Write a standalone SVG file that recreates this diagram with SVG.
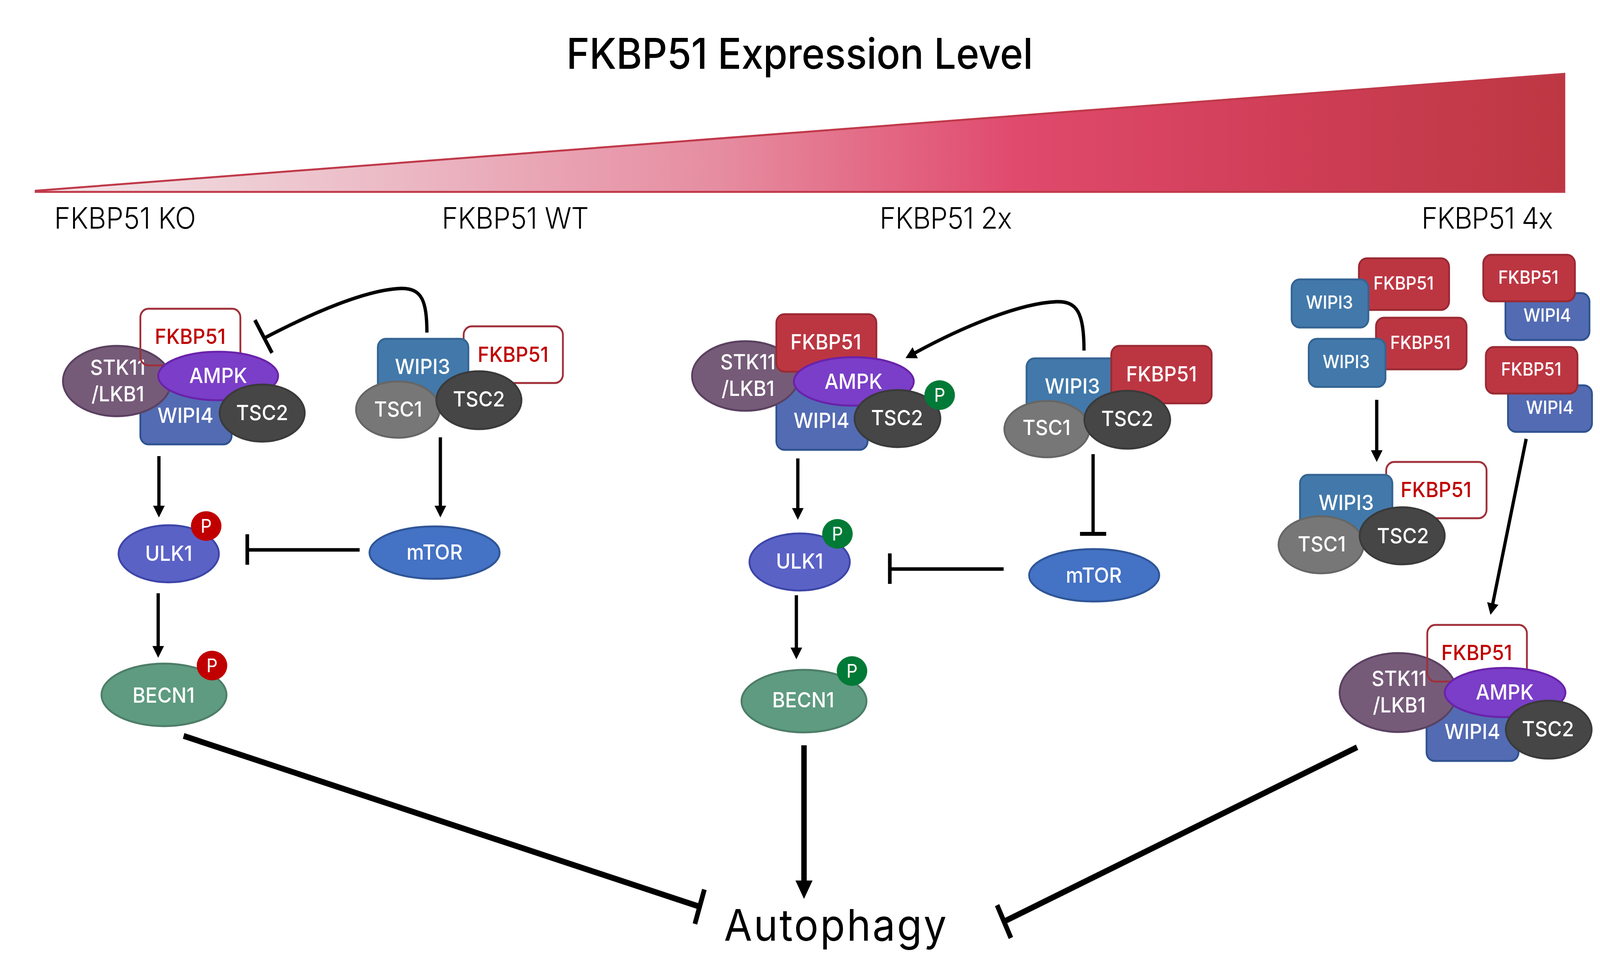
<svg xmlns="http://www.w3.org/2000/svg" width="4400" height="2505" viewBox="0 0 4400 2505" preserveAspectRatio="none" style="max-width:100vw;max-height:100vh">
<defs>
<linearGradient id="grad" gradientUnits="userSpaceOnUse" x1="98" y1="0" x2="4302" y2="0">
<stop offset="0" stop-color="#f2e8ea"/>
<stop offset="0.25" stop-color="#ebb6c2"/>
<stop offset="0.45" stop-color="#e68ca0"/>
<stop offset="0.64" stop-color="#e04a6d"/>
<stop offset="0.8" stop-color="#d13f59"/>
<stop offset="1" stop-color="#bd3742"/>
</linearGradient>
<marker id="arr" markerUnits="userSpaceOnUse" viewBox="0 0 30 32" refX="1" refY="16" markerWidth="30" markerHeight="32" orient="auto"><path d="M0,0 L30,16 L0,32 z" fill="#000"/></marker>
<marker id="arrBig" markerUnits="userSpaceOnUse" viewBox="0 0 47 47" refX="1" refY="23.5" markerWidth="47" markerHeight="47" orient="auto"><path d="M0,0 L47,23.5 L0,47 z" fill="#000"/></marker>
</defs>
<style>
.t{font-family:Inter,"Open Sans","Liberation Sans",sans-serif;fill:#000}
.lbl{font-family:Inter,"Open Sans","Liberation Sans",sans-serif;font-weight:500;fill:#fff;text-anchor:middle;font-size:54px}
.sm{font-size:46px}
.rt{fill:#c00000}
.pt{font-size:48px;font-weight:400}
.stk{fill:#765b79;stroke:#5a4160;stroke-width:5}
.ampk{fill:#7a3ec8;stroke:#6a22aa;stroke-width:5}
.wipi4{fill:#536bb3;stroke:#2f5390;stroke-width:5}
.wipi3{fill:#4279aa;stroke:#346493;stroke-width:5}
.tsc2{fill:#464646;stroke:#3a3a3a;stroke-width:5}
.tsc1{fill:#777;stroke:#666;stroke-width:5}
.fkr{fill:#bc3642;stroke:#9a2a33;stroke-width:5}
.fkw{fill:#fff;stroke:#a0303a;stroke-width:5}
.fko{fill:none;stroke:#a0303a;stroke-width:5}
.ulk{fill:#5a62c6;stroke:#3d45a8;stroke-width:5}
.mtor{fill:#4472c4;stroke:#2f5597;stroke-width:5}
.becn{fill:#5e9b80;stroke:#4d7d68;stroke-width:5}
.pr{fill:#c00000}
.pg{fill:#007a36}
.ln{stroke:#000;stroke-width:9;fill:none;stroke-linecap:butt}
.big{stroke-width:15}
.bar{stroke:#000;stroke-width:10;fill:none}
.bbar{stroke-width:13}
</style>
<rect width="4400" height="2505" fill="#fff"/>

<g id="header">
<text class="t" x="2199" y="176" font-size="108" font-weight="500" text-anchor="middle" textLength="1283" lengthAdjust="spacing">FKBP51 Expression Level</text>
<polygon points="98,488 4302,189 4302,491 98,491" fill="url(#grad)" stroke="#c0394a" stroke-width="5" stroke-linejoin="miter"/>
<text class="t" x="149" y="585" font-size="76" font-weight="300" textLength="390" lengthAdjust="spacing">FKBP51 KO</text>
<text class="t" x="1215" y="585" font-size="76" font-weight="300" textLength="404" lengthAdjust="spacing">FKBP51 WT</text>
<text class="t" x="2419" y="585" font-size="76" font-weight="300" textLength="364" lengthAdjust="spacing">FKBP51 2x</text>
<text class="t" x="3909" y="585" font-size="76" font-weight="300" textLength="362" lengthAdjust="spacing">FKBP51 4x</text>
</g>

<!-- Panel KO / WT -->
<g id="ko-wipi4"><rect class="wipi4" x="386" y="950" width="251" height="187" rx="22"/><text class="lbl" x="510" y="1082">WIPI4</text></g>
<g id="ko-stk11"><ellipse class="stk" cx="322" cy="975" rx="149" ry="90"/><text class="lbl" x="324" y="959">STK11</text><text class="lbl" x="324" y="1027">/LKB1</text></g>
<g id="ko-fkbp51-a"><rect class="fko" x="386" y="790" width="275" height="145" rx="22"/><text class="lbl rt" x="523" y="880">FKBP51</text></g>
<g id="ko-ampk"><ellipse class="ampk" cx="600" cy="962" rx="165" ry="62"/><text class="lbl" x="600" y="980">AMPK</text></g>
<g id="ko-tsc2-a"><ellipse class="tsc2" cx="721" cy="1057" rx="117" ry="73"/><text class="lbl" x="721" y="1075">TSC2</text></g>

<g id="ko-fkbp51-b"><rect class="fkw" x="1275" y="835" width="273" height="145" rx="22"/><text class="lbl rt" x="1411" y="926">FKBP51</text></g>
<g id="ko-wipi3"><rect class="wipi3" x="1039" y="867" width="249" height="190" rx="22"/><text class="lbl" x="1162" y="957">WIPI3</text></g>
<g id="ko-tsc1"><ellipse class="tsc1" cx="1094" cy="1048" rx="115" ry="72"/><text class="lbl" x="1095" y="1066">TSC1</text></g>
<g id="ko-tsc2-b"><ellipse class="tsc2" cx="1317" cy="1024" rx="117" ry="74"/><text class="lbl" x="1317" y="1040">TSC2</text></g>

<g id="ko-ulk1"><ellipse class="ulk" cx="464" cy="1417" rx="138" ry="73"/><text class="lbl" x="464" y="1435">ULK1</text></g>
<g id="ko-ulk1-p"><ellipse class="pr" cx="567" cy="1346" rx="42" ry="38"/><text class="lbl pt" x="567" y="1363">P</text></g>
<g id="ko-mtor"><ellipse class="mtor" cx="1195" cy="1414" rx="179" ry="67"/><text class="lbl" x="1195" y="1432">mTOR</text></g>
<g id="ko-becn1"><ellipse class="becn" cx="451" cy="1778" rx="172" ry="80"/><text class="lbl" x="450" y="1798">BECN1</text></g>
<g id="ko-becn1-p"><ellipse class="pr" cx="583" cy="1703" rx="42" ry="38"/><text class="lbl pt" x="583" y="1720">P</text></g>

<!-- Panel 2x -->
<g id="x2-wipi4"><rect class="wipi4" x="2135" y="990" width="251" height="161" rx="22"/><text class="lbl" x="2259" y="1095">WIPI4</text></g>
<g id="x2-stk11"><ellipse class="stk" cx="2050" cy="962" rx="147" ry="89"/><text class="lbl" x="2057" y="945">STK11</text><text class="lbl" x="2057" y="1013">/LKB1</text></g>
<g id="x2-fkbp51-a"><rect class="fkr" x="2135" y="804" width="275" height="147" rx="22"/><text class="lbl" x="2271" y="894">FKBP51</text></g>
<g id="x2-ampk"><ellipse class="ampk" cx="2348" cy="976" rx="165" ry="62"/><text class="lbl" x="2347" y="995">AMPK</text></g>
<g id="x2-tsc2-a"><ellipse class="tsc2" cx="2468" cy="1071" rx="118" ry="73"/><text class="lbl" x="2467" y="1088">TSC2</text></g>
<g id="x2-tsc2-p"><ellipse class="pg" cx="2584" cy="1011" rx="42" ry="38"/><text class="lbl pt" x="2584" y="1028">P</text></g>

<g id="x2-wipi3"><rect class="wipi3" x="2823" y="917" width="254" height="190" rx="22"/><text class="lbl" x="2949" y="1007">WIPI3</text></g>
<g id="x2-fkbp51-b"><rect class="fkr" x="3056" y="885" width="276" height="147" rx="22"/><text class="lbl" x="3194" y="976">FKBP51</text></g>
<g id="x2-tsc1"><ellipse class="tsc1" cx="2879" cy="1098" rx="117" ry="72"/><text class="lbl" x="2878" y="1113">TSC1</text></g>
<g id="x2-tsc2-b"><ellipse class="tsc2" cx="3100" cy="1074" rx="118" ry="74"/><text class="lbl" x="3100" y="1090">TSC2</text></g>

<g id="x2-ulk1"><ellipse class="ulk" cx="2199" cy="1438" rx="138" ry="73"/><text class="lbl" x="2199" y="1455">ULK1</text></g>
<g id="x2-ulk1-p"><ellipse class="pg" cx="2303" cy="1366" rx="42" ry="38"/><text class="lbl pt" x="2303" y="1383">P</text></g>
<g id="x2-mtor"><ellipse class="mtor" cx="3009" cy="1472" rx="179" ry="67"/><text class="lbl" x="3008" y="1491">mTOR</text></g>
<g id="x2-becn1"><ellipse class="becn" cx="2211" cy="1794" rx="172" ry="80"/><text class="lbl" x="2209" y="1810">BECN1</text></g>
<g id="x2-becn1-p"><ellipse class="pg" cx="2343" cy="1717" rx="42" ry="38"/><text class="lbl pt" x="2343" y="1734">P</text></g>

<!-- Panel 4x -->
<g id="x4-fkbp51-1"><rect class="fkr" x="3737" y="661" width="248" height="132" rx="22"/><text class="lbl sm" x="3860" y="741">FKBP51</text></g>
<g id="x4-wipi3-1"><rect class="wipi3" x="3552" y="715" width="211" height="123" rx="22"/><text class="lbl sm" x="3656" y="790">WIPI3</text></g>
<g id="x4-fkbp51-2"><rect class="fkr" x="3784" y="813" width="249" height="132" rx="22"/><text class="lbl sm" x="3906" y="893">FKBP51</text></g>
<g id="x4-wipi3-2"><rect class="wipi3" x="3599" y="867" width="211" height="123" rx="22"/><text class="lbl sm" x="3702" y="942">WIPI3</text></g>
<g id="x4-wipi4-1"><rect class="wipi4" x="4140" y="750" width="231" height="120" rx="22"/><text class="lbl sm" x="4255" y="823">WIPI4</text></g>
<g id="x4-fkbp51-3"><rect class="fkr" x="4079" y="652" width="252" height="119" rx="22"/><text class="lbl sm" x="4203" y="726">FKBP51</text></g>
<g id="x4-wipi4-2"><rect class="wipi4" x="4147" y="986" width="231" height="119" rx="22"/><text class="lbl sm" x="4262" y="1059">WIPI4</text></g>
<g id="x4-fkbp51-4"><rect class="fkr" x="4086" y="888" width="252" height="119" rx="22"/><text class="lbl sm" x="4211" y="961">FKBP51</text></g>

<g id="x4-fkbp51-5"><rect class="fkw" x="3812" y="1182" width="276" height="144" rx="22"/><text class="lbl rt" x="3949" y="1272">FKBP51</text></g>
<g id="x4-wipi3-3"><rect class="wipi3" x="3575" y="1215" width="254" height="180" rx="22"/><text class="lbl" x="3702" y="1305">WIPI3</text></g>
<g id="x4-tsc1"><ellipse class="tsc1" cx="3633" cy="1394" rx="117" ry="73"/><text class="lbl" x="3635" y="1411">TSC1</text></g>
<g id="x4-tsc2-a"><ellipse class="tsc2" cx="3856" cy="1371" rx="117" ry="73"/><text class="lbl" x="3858" y="1390">TSC2</text></g>

<g id="x4-wipi4-3"><rect class="wipi4" x="3923" y="1800" width="253" height="147" rx="22"/><text class="lbl" x="4049" y="1891">WIPI4</text></g>
<g id="x4-stk11"><ellipse class="stk" cx="3845" cy="1772" rx="161" ry="101"/><text class="lbl" x="3848" y="1755">STK11</text><text class="lbl" x="3848" y="1823">/LKB1</text></g>
<g id="x4-fkbp51-6"><rect class="fko" x="3925" y="1599" width="274" height="145" rx="22"/><text class="lbl rt" x="4061" y="1689">FKBP51</text></g>
<g id="x4-ampk"><ellipse class="ampk" cx="4139" cy="1772" rx="166" ry="63"/><text class="lbl" x="4138" y="1790">AMPK</text></g>
<g id="x4-tsc2-b"><ellipse class="tsc2" cx="4259" cy="1867" rx="118" ry="74"/><text class="lbl" x="4257" y="1884">TSC2</text></g>

<g id="autophagy"><text class="t" x="1991" y="2407" font-size="112" textLength="612" lengthAdjust="spacing">Autophagy</text></g>

<g id="connectors">
<path class="ln" d="M437,1167 V1295" marker-end="url(#arr)"/>
<path class="ln" d="M1211,1119 V1295" marker-end="url(#arr)"/>
<path class="ln" d="M435,1518 V1654" marker-end="url(#arr)"/>
<path class="ln" d="M1174,851 C1174,770 1160,738 1105,738 C1010,740 860,800 725,866"/>
<path class="bar" d="M701,819 L748,903"/>
<path class="ln" d="M989,1407 H680"/>
<path class="bar" d="M680,1367 V1445"/>

<path class="ln" d="M2194,1173 V1301" marker-end="url(#arr)"/>
<path class="ln" d="M2190,1523 V1658" marker-end="url(#arr)"/>
<path class="ln" d="M2981,897 C2981,800 2962,770 2905,772 C2800,776 2640,840 2516,903" marker-end="url(#arr)"/>
<path class="ln" d="M3006,1162 V1366"/>
<path class="bar" d="M2970,1366 H3042"/>
<path class="ln" d="M2760,1456 H2447"/>
<path class="bar" d="M2447,1416 V1494"/>

<path class="ln" d="M3786,1023 V1153" marker-end="url(#arr)"/>
<path class="ln" d="M4197,1123 L4105,1545" marker-end="url(#arr)"/>

<path class="ln big" d="M505,1883 L1924,2320"/>
<path class="bar bbar" d="M1937,2276 L1911,2364"/>
<path class="ln big" d="M2211,1907 V2254" marker-end="url(#arrBig)"/>
<path class="ln big" d="M3732,1912 L2761,2358"/>
<path class="bar bbar" d="M2742,2316 L2780,2400"/>
</g>
</svg>
